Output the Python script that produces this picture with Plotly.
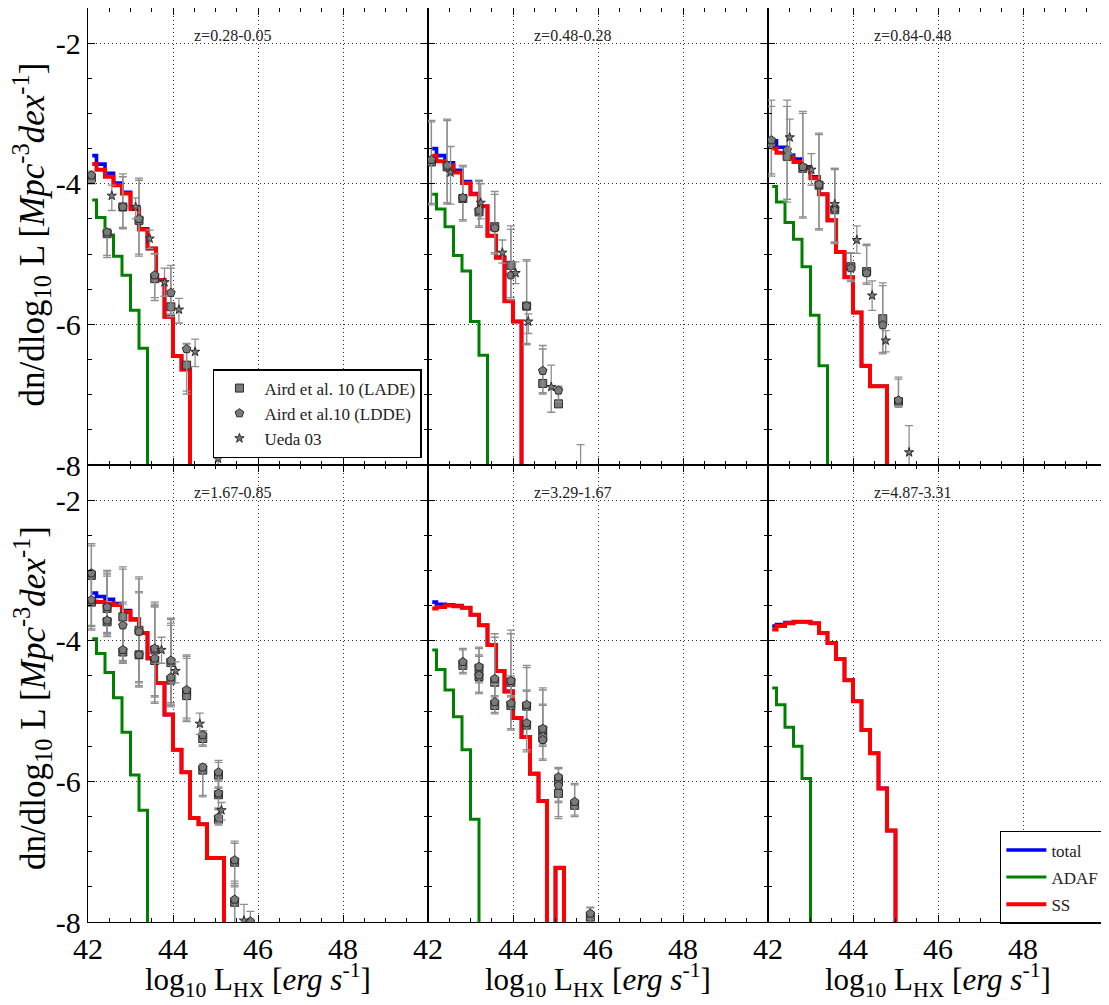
import plotly.graph_objects as go
from plotly.subplots import make_subplots

# ---------------- data ----------------
model_x = [42.1, 42.3, 42.5, 42.7, 42.9, 43.1, 43.3, 43.5, 43.7, 43.9,
           44.1, 44.3, 44.5, 44.7, 44.9, 45.1, 45.3, 45.5]

panel_titles = ["z=0.28-0.05", "z=0.48-0.28", "z=0.84-0.48",
                "z=1.67-0.85", "z=3.29-1.67", "z=4.87-3.31"]

# model curves (log10 dn/dlogL); -10 means "below the plotted range"
tot1 = [-3.60, -3.72, -3.85, -3.99, -4.12, -4.34, -4.64, -4.92, -5.37, -5.89, -6.45, -6.64, -10]
ss1 = [-3.72, -3.80, -3.90, -4.02, -4.14, -4.36, -4.65, -4.92, -5.37, -5.89, -6.45, -6.64, -10]
adaf1 = [-4.23, -4.48, -4.73, -5.03, -5.30, -5.80, -6.34, -10]

tot2 = [-3.50, -3.60, -3.70, -3.81, -3.97, -4.14, -4.32, -4.74, -5.05, -5.67, -5.96, -10]
ss2 = [-3.60, -3.68, -3.74, -3.84, -3.99, -4.15, -4.32, -4.74, -5.05, -5.67, -5.96, -10]
adaf2 = [-4.15, -4.36, -4.61, -5.02, -5.24, -5.96, -6.44, -10]

tot3 = [-3.39, -3.48, -3.59, -3.65, -3.76, -3.90, -4.15, -4.52, -4.97, -5.33, -5.83, -6.59, -6.88, -6.88, -10]
ss3 = [-3.50, -3.56, -3.62, -3.69, -3.78, -3.92, -4.15, -4.52, -4.97, -5.33, -5.83, -6.59, -6.88, -6.88, -10]
adaf3 = [-4.04, -4.26, -4.55, -4.79, -5.18, -5.87, -6.59, -10]

tot4 = [-3.32, -3.37, -3.41, -3.47, -3.57, -3.69, -3.89, -4.25, -4.60, -5.05, -5.55, -5.87, -6.52, -6.61, -7.09, -7.09, -10]
ss4 = [-3.44, -3.45, -3.47, -3.49, -3.59, -3.70, -3.89, -4.25, -4.60, -5.05, -5.55, -5.87, -6.52, -6.61, -7.09, -7.09, -10]
adaf4 = [-3.97, -4.18, -4.45, -4.81, -5.30, -5.91, -6.41, -10]

tot5 = [-3.45, -3.48, -3.49, -3.50, -3.53, -3.63, -3.78, -4.06, -4.43, -4.72, -5.10, -5.37, -5.89, -6.28, -10, -7.23, -10]
ss5 = [-3.54, -3.52, -3.50, -3.51, -3.53, -3.63, -3.78, -4.06, -4.43, -4.72, -5.10, -5.37, -5.89, -6.28, -10, -7.23, -10]
adaf5 = [-4.13, -4.41, -4.70, -5.08, -5.55, -6.54, -10]

tot6 = [-3.79, -3.77, -3.74, -3.73, -3.73, -3.75, -3.89, -4.03, -4.26, -4.56, -4.86, -5.27, -5.60, -6.10, -6.70, -10]
ss6 = [-3.84, -3.79, -3.75, -3.73, -3.73, -3.75, -3.89, -4.03, -4.26, -4.56, -4.86, -5.27, -5.60, -6.10, -6.70, -10]
adaf6 = [-4.67, -4.91, -5.23, -5.50, -5.96, -10]

# observational points: x, y, upper bound, lower bound
p1_lade_x = [42.08, 42.45, 42.82, 43.20, 43.57, 43.95, 44.32]
p1_lade_y = [-3.92, -4.71, -4.33, -4.52, -5.35, -5.75, -6.58]
p1_lade_hi = [-3.85, -4.66, -3.86, -3.92, -4.99, -5.16, -6.27]
p1_lade_lo = [-4.00, -5.05, -4.64, -5.03, -5.66, -5.89, -6.99]
p1_ldde_x = [42.08, 42.45, 42.82, 43.20, 43.57, 43.95, 44.32]
p1_ldde_y = [-3.88, -4.69, -4.33, -4.50, -5.30, -5.55, -6.35]
p1_ldde_hi = [-3.82, -4.64, -3.90, -3.95, -5.00, -5.20, -6.28]
p1_ldde_lo = [-3.97, -5.02, -4.62, -5.00, -5.62, -5.85, -6.95]
p1_ueda_x = [42.56, 43.12, 43.45, 43.80, 44.14, 44.52, 45.06]
p1_ueda_y = [-4.17, -4.33, -4.78, -5.40, -5.79, -6.39, -7.91]
p1_ueda_hi = [-4.02, -4.20, -4.66, -5.20, -5.63, -6.21, -7.80]
p1_ueda_lo = [-4.38, -4.50, -4.92, -5.60, -5.98, -6.60, -8.10]

p2_lade_x = [42.08, 42.45, 42.82, 43.20, 43.57, 43.95, 44.32, 44.70, 45.07]
p2_lade_y = [-3.69, -3.76, -4.21, -4.40, -4.61, -5.16, -5.74, -6.84, -7.13]
p2_lade_hi = [-3.10, -3.08, -3.74, -3.95, -4.11, -4.60, -5.08, -6.30, -6.88]
p2_lade_lo = [-4.30, -4.29, -4.53, -4.62, -5.00, -5.65, -6.29, -6.99, -7.13]
p2_ldde_x = [42.08, 42.45, 42.82, 43.20, 43.57, 43.95, 44.32, 44.70, 45.07, 45.59]
p2_ldde_y = [-3.66, -3.74, -4.20, -4.38, -4.63, -5.30, -5.74, -6.66, -6.94, -8.30]
p2_ldde_hi = [-3.12, -3.10, -3.76, -3.97, -4.15, -4.65, -5.10, -6.35, -6.90, -7.71]
p2_ldde_lo = [-4.28, -4.27, -4.51, -4.60, -4.98, -5.62, -6.27, -6.97, -7.10, -8.60]
p2_ueda_x = [42.53, 43.24, 43.75, 44.06, 44.36, 44.90]
p2_ueda_y = [-3.84, -4.27, -4.98, -5.27, -5.96, -6.89]
p2_ueda_hi = [-3.47, -4.00, -4.80, -5.11, -5.85, -6.58]
p2_ueda_lo = [-4.29, -4.50, -5.13, -5.42, -6.13, -7.25]

p3_lade_x = [42.08, 42.45, 42.82, 43.20, 43.57, 43.95, 44.32, 44.70, 45.07]
p3_lade_y = [-3.42, -3.61, -3.78, -4.02, -4.37, -5.18, -5.25, -5.92, -7.10]
p3_lade_hi = [-2.81, -2.81, -2.97, -3.28, -3.78, -4.99, -4.86, -5.41, -6.75]
p3_lade_lo = [-3.89, -4.26, -4.49, -4.66, -4.85, -5.39, -5.41, -6.40, -7.18]
p3_ldde_x = [42.08, 42.45, 42.82, 43.20, 43.57, 43.95, 44.32, 44.70, 45.07]
p3_ldde_y = [-3.38, -3.52, -3.76, -4.01, -4.35, -5.20, -5.27, -6.01, -7.08]
p3_ldde_hi = [-2.90, -2.90, -3.00, -3.30, -3.80, -4.98, -4.88, -5.45, -6.78]
p3_ldde_lo = [-3.86, -4.22, -4.47, -4.64, -4.83, -5.37, -5.43, -6.42, -7.16]
p3_ueda_x = [42.51, 43.02, 43.57, 44.09, 44.45, 44.77, 45.32]
p3_ueda_y = [-3.34, -3.80, -4.29, -4.80, -5.59, -6.23, -7.82]
p3_ueda_hi = [-3.08, -3.57, -3.78, -4.60, -5.38, -6.09, -7.44]
p3_ueda_lo = [-3.57, -4.02, -4.83, -4.99, -5.80, -6.39, -8.10]

p4_lade_x = [42.08, 42.08, 42.45, 42.45, 42.82, 42.82, 43.20, 43.20, 43.57, 43.57, 43.95,
             43.95, 44.32, 44.32, 44.70, 44.70, 45.07, 45.07, 45.07, 45.45, 45.45]
p4_lade_y = [-3.07, -3.45, -3.54, -3.73, -3.66, -4.16, -3.85, -4.20, -4.13, -4.28, -4.31,
             -4.56, -4.73, -4.78, -5.39, -5.84, -5.91, -6.19, -6.54, -7.15, -7.72]
p4_lade_hi = [-2.62, -3.00, -3.00, -3.05, -2.95, -3.45, -3.09, -3.30, -3.45, -3.50, -3.68,
              -3.75, -4.20, -4.25, -5.30, -5.78, -5.73, -6.00, -6.40, -6.88, -7.45]
p4_lade_lo = [-3.80, -3.85, -3.94, -3.90, -4.32, -4.30, -4.66, -4.60, -4.89, -4.80, -4.94,
              -4.90, -5.15, -5.10, -5.50, -6.22, -6.10, -6.40, -6.62, -7.50, -8.10]
p4_ldde_x = [42.08, 42.08, 42.45, 42.45, 42.82, 42.82, 43.20, 43.20, 43.57, 43.57, 43.95,
             43.95, 44.32, 44.70, 44.70, 45.07, 45.07, 45.07, 45.45, 45.45, 45.82]
p4_ldde_y = [-3.04, -3.42, -3.52, -3.71, -3.78, -4.13, -3.87, -4.20, -4.11, -4.25, -4.28,
             -4.52, -4.70, -5.34, -5.80, -5.87, -6.17, -6.51, -7.12, -7.68, -7.99]
p4_ldde_hi = [-2.65, -3.02, -3.02, -3.08, -2.98, -3.48, -3.12, -3.32, -3.48, -3.52, -3.70,
              -3.78, -4.22, -5.28, -5.75, -5.70, -5.98, -6.38, -6.85, -7.42, -7.85]
p4_ldde_lo = [-3.78, -3.83, -3.92, -3.88, -4.30, -4.28, -4.64, -4.58, -4.87, -4.78, -4.92,
              -4.88, -5.13, -5.48, -6.20, -6.08, -6.38, -6.60, -7.48, -8.05, -8.10]
p4_ueda_x = [43.73, 44.06, 44.63, 45.14, 45.67]
p4_ueda_y = [-4.13, -4.43, -5.18, -6.41, -7.98]
p4_ueda_hi = [-3.95, -4.30, -5.03, -6.30, -7.75]
p4_ueda_lo = [-4.32, -4.60, -5.33, -6.55, -8.10]

p5_lade_x = [42.82, 43.20, 43.20, 43.57, 43.57, 43.95, 43.95, 44.32, 44.32, 44.70, 44.70,
             45.07, 45.07, 45.45, 45.82]
p5_lade_y = [-4.35, -4.39, -4.51, -4.59, -4.92, -4.59, -4.92, -4.93, -5.20, -5.27, -5.38,
             -5.99, -6.17, -6.34, -7.93]
p5_lade_hi = [-4.11, -4.09, -4.20, -3.90, -4.60, -3.85, -4.50, -4.35, -4.70, -4.67, -4.90,
              -5.80, -5.90, -6.03, -7.79]
p5_lade_lo = [-4.47, -4.60, -4.75, -4.80, -5.04, -4.80, -5.27, -5.20, -5.58, -5.50, -5.70,
              -6.30, -6.53, -6.50, -8.10]
p5_ldde_x = [42.82, 43.20, 43.20, 43.57, 43.57, 43.95, 43.95, 44.32, 44.32, 44.70, 44.70,
             45.07, 45.07, 45.45, 45.82]
p5_ldde_y = [-4.30, -4.37, -4.49, -4.54, -4.87, -4.57, -4.89, -4.91, -5.17, -5.25, -5.41,
             -5.94, -6.06, -6.29, -7.88]
p5_ldde_hi = [-4.13, -4.11, -4.22, -3.95, -4.62, -3.90, -4.52, -4.38, -4.72, -4.70, -4.92,
              -5.82, -5.92, -6.05, -7.80]
p5_ldde_lo = [-4.45, -4.58, -4.73, -4.78, -5.02, -4.78, -5.25, -5.18, -5.55, -5.48, -5.68,
              -6.28, -6.50, -6.48, -8.10]

y_ticks = [-8, -6, -4, -2]
x_ticks = [42, 44, 46, 48]
x_range = [42, 50]
y_range = [-8, -1.5]

# ---------------- figure ----------------
FONT = "Liberation Serif, DejaVu Serif, Times New Roman, serif"
BLUE, GREEN, RED = "#0000ff", "#008000", "#ff0000"
MFILL, MEDGE, ECOL = "#7a7a7a", "#2a2a2a", "#8f8f8f"

fig = make_subplots(rows=2, cols=3, horizontal_spacing=0, vertical_spacing=0)

models = [(tot1, adaf1, ss1), (tot2, adaf2, ss2), (tot3, adaf3, ss3),
          (tot4, adaf4, ss4), (tot5, adaf5, ss5), (tot6, adaf6, ss6)]

obs = {
    1: [(p1_lade_x, p1_lade_y, p1_lade_hi, p1_lade_lo, "square"),
        (p1_ldde_x, p1_ldde_y, p1_ldde_hi, p1_ldde_lo, "pentagon"),
        (p1_ueda_x, p1_ueda_y, p1_ueda_hi, p1_ueda_lo, "star")],
    2: [(p2_lade_x, p2_lade_y, p2_lade_hi, p2_lade_lo, "square"),
        (p2_ldde_x, p2_ldde_y, p2_ldde_hi, p2_ldde_lo, "pentagon"),
        (p2_ueda_x, p2_ueda_y, p2_ueda_hi, p2_ueda_lo, "star")],
    3: [(p3_lade_x, p3_lade_y, p3_lade_hi, p3_lade_lo, "square"),
        (p3_ldde_x, p3_ldde_y, p3_ldde_hi, p3_ldde_lo, "pentagon"),
        (p3_ueda_x, p3_ueda_y, p3_ueda_hi, p3_ueda_lo, "star")],
    4: [(p4_lade_x, p4_lade_y, p4_lade_hi, p4_lade_lo, "square"),
        (p4_ldde_x, p4_ldde_y, p4_ldde_hi, p4_ldde_lo, "pentagon"),
        (p4_ueda_x, p4_ueda_y, p4_ueda_hi, p4_ueda_lo, "star")],
    5: [(p5_lade_x, p5_lade_y, p5_lade_hi, p5_lade_lo, "square"),
        (p5_ldde_x, p5_ldde_y, p5_ldde_hi, p5_ldde_lo, "pentagon")],
}
obs_names = {"square": "Aird et al. 10 (LADE)",
             "pentagon": "Aird et al.10 (LDDE)",
             "star": "Ueda 03"}
msize = {"square": 8, "pentagon": 9, "star": 7}

for i in range(6):
    r, c = i // 3 + 1, i % 3 + 1
    tot, adaf, ss = models[i]
    show = (i == 5)
    for vals, col, w, name in [(tot, BLUE, 3.6, "total"), (adaf, GREEN, 3, "ADAF"),
                               (ss, RED, 4, "SS")]:
        fig.add_trace(go.Scatter(
            x=model_x[:len(vals)], y=vals, mode="lines", name=name,
            line=dict(color=col, width=w, shape="hvh"), legendgroup=name,
            showlegend=show, legend="legend2"), row=r, col=c)
    for (xs, ys, his, los, sym) in obs.get(i + 1, []):
        fig.add_trace(go.Scatter(
            x=xs, y=ys, mode="markers", name=obs_names[sym], legendgroup=sym,
            marker=dict(symbol=sym, size=msize[sym], color=MFILL,
                        line=dict(color=MEDGE, width=1)),
            error_y=dict(type="data", symmetric=False,
                         array=[h - y for h, y in zip(his, ys)],
                         arrayminus=[y - l for l, y in zip(los, ys)],
                         color=ECOL, thickness=1.3, width=4),
            showlegend=(i == 0), legend="legend"), row=r, col=c)
    # panel title
    fig.add_annotation(x=44.5, y=-2, xref=f"x{i+1 if i else ''}", yref=f"y{i+1 if i else ''}",
                       text=panel_titles[i], showarrow=False, xanchor="left",
                       yanchor="bottom", yshift=-3, xshift=-2,
                       font=dict(family=FONT, size=16, color="#222"))

axis_common = dict(showline=True, linecolor="black", linewidth=1.3, mirror="ticks",
                   ticks="inside", ticklen=7, tickwidth=1, tickcolor="black",
                   showgrid=True, gridcolor="#333", griddash="1px,3px", gridwidth=1,
                   zeroline=False,
                   tickfont=dict(family=FONT, size=30, color="black"))

for i in range(6):
    r, c = i // 3 + 1, i % 3 + 1
    fig.update_xaxes(range=x_range, tickmode="array", tickvals=x_ticks,
                     ticktext=[str(t) for t in x_ticks],
                     showticklabels=(r == 2),
                     minor=dict(ticks="inside", ticklen=3.5, tickcolor="black",
                                tickmode="linear", tick0=42, dtick=0.5, showgrid=False),
                     **axis_common, row=r, col=c)
    fig.update_yaxes(range=y_range, tickmode="array", tickvals=y_ticks,
                     ticktext=["-" + str(abs(t)) for t in y_ticks],
                     showticklabels=(c == 1),
                     minor=dict(ticks="inside", ticklen=3.5, tickcolor="black",
                                tickmode="linear", tick0=-8, dtick=0.5, showgrid=False),
                     **axis_common, row=r, col=c)

ylab = "dn/dlog<sub>10</sub> L [<i>Mpc</i><sup>-3</sup><i>dex</i><sup>-1</sup>]"
xlab = "log<sub>10</sub> L<sub>HX</sub> [<i>erg s</i><sup>-1</sup>]"
for yc in [0.752, 0.245]:
    fig.add_annotation(x=-0.055, y=yc, xref="paper", yref="paper", text=ylab,
                       textangle=-90, showarrow=False, xanchor="center", yanchor="middle",
                       font=dict(family=FONT, size=35, color="black"))
for xc in [1 / 6, 0.5, 5 / 6]:
    fig.add_annotation(x=xc, y=-0.064, xref="paper", yref="paper", text=xlab,
                       showarrow=False, xanchor="center", yanchor="middle",
                       font=dict(family=FONT, size=31, color="black"))

# the page body has an 8 px default margin: size the figure so that the
# plotting area lands at x 88..1108, y 8..922 of the window
fig.update_layout(
    width=1101, height=997,
    margin=dict(l=80, r=1, t=0, b=83),
    plot_bgcolor="white", paper_bgcolor="white",
    font=dict(family=FONT, color="black"),
    legend=dict(x=0.1225, y=0.605, xanchor="left", yanchor="top",
                bgcolor="white", bordercolor="black", borderwidth=1.5,
                font=dict(family=FONT, size=17, color="#222"),
                itemwidth=40, tracegroupgap=0),
    legend2=dict(x=0.894, y=0.0996, xanchor="left", yanchor="top",
                 bgcolor="white", bordercolor="black", borderwidth=1.5,
                 font=dict(family=FONT, size=17, color="#222"),
                 itemwidth=40, tracegroupgap=2),
)

fig.write_html("out.html")
